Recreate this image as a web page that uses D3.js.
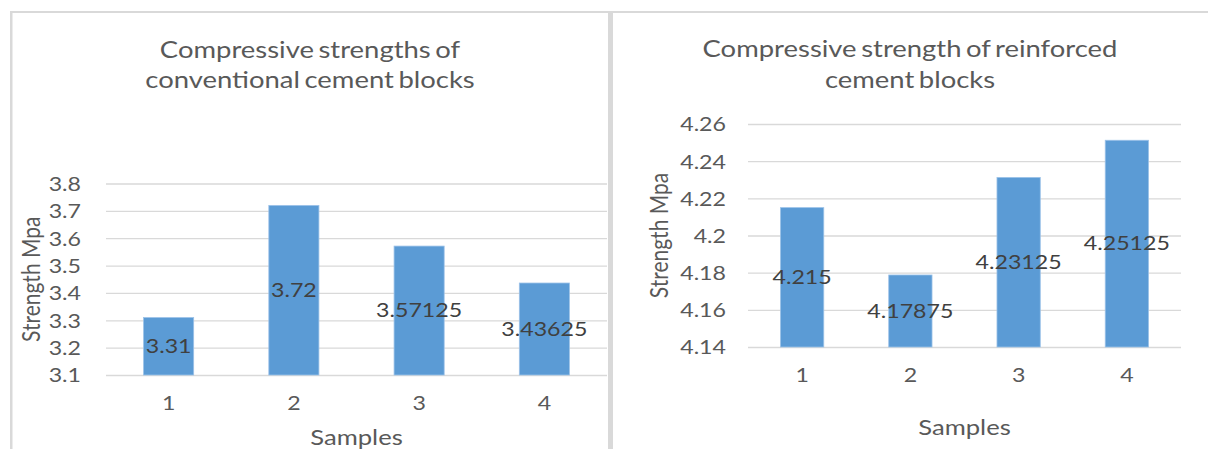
<!DOCTYPE html>
<html>
<head>
<meta charset="utf-8">
<script src="https://cdn.jsdelivr.net/npm/d3@7"></script>
<style>
  body { margin: 0; background: #fff; }
  svg text { font-family: Lato, "Open Sans", sans-serif; }
</style>
</head>
<body>
<svg id="chart" width="1208" height="449"></svg>
<script>
// Sample numbers shared by both charts
const samples = ["1", "2", "3", "4"];

// Conventional cement blocks
const conventionalTitle = ["Compressive strengths of", "conventional cement blocks"];
const conventionalStrength = [3.31, 3.72, 3.57125, 3.43625];
const conventionalTicks = [3.1, 3.2, 3.3, 3.4, 3.5, 3.6, 3.7, 3.8];

// Reinforced cement blocks
const reinforcedTitle = ["Compressive strength of reinforced", "cement blocks"];
const reinforcedStrength = [4.215, 4.17875, 4.23125, 4.25125];
const reinforcedTicks = [4.14, 4.16, 4.18, 4.2, 4.22, 4.24, 4.26];

const xTitle = "Samples";
const yTitle = "Strength Mpa";

const BAR = "#5b9bd5";
const GRID = "#d9d9d9";
const FRAME = "#d9d9d9";
const LABEL = "#595959";
const VALUE = "#404040";
const SX = 1.22; // horizontal text stretch

const svg = d3.select("#chart");

// Chart frames
svg.append("rect").attr("x", 10).attr("y", 11).attr("width", 1200).attr("height", 2).attr("fill", FRAME);
svg.append("rect").attr("x", 10).attr("y", 11).attr("width", 2.5).attr("height", 440).attr("fill", FRAME);
svg.append("rect").attr("x", 608).attr("y", 11).attr("width", 5).attr("height", 440).attr("fill", FRAME);

const fmt = v => String(+v.toFixed(5));

function stretched(g, str, x, y, opts) {
  return g.append("text")
    .attr("transform", `translate(${x},${y}) scale(${SX},1)` + (opts.rotate ? ` rotate(${opts.rotate})` : ""))
    .attr("text-anchor", opts.anchor || "middle")
    .attr("font-size", opts.size)
    .attr("word-spacing", opts.wordSpacing || 0)
    .attr("fill", opts.color || LABEL)
    .text(str);
}

function drawChart(cfg) {
  const g = svg.append("g");

  const x = d3.scaleBand().domain(samples).range(cfg.xRange).paddingInner(0.6).paddingOuter(0.3);
  const y = d3.scaleLinear().domain(cfg.domain).range(cfg.yRange);

  // Title
  cfg.title.forEach((line, i) => stretched(g, line, cfg.titleX, cfg.titleY[i], { size: 22.5, wordSpacing: -2 }));

  // Gridlines and y tick labels
  const yAxis = g.append("g")
    .attr("transform", `translate(${cfg.xRange[0]},0)`)
    .call(d3.axisLeft(y).tickValues(cfg.ticks).tickSize(-(cfg.xRange[1] - cfg.xRange[0])).tickPadding(0).tickFormat(fmt));
  yAxis.select(".domain").remove();
  yAxis.selectAll(".tick line").attr("stroke", GRID).attr("stroke-width", 1.3);
  yAxis.selectAll(".tick text")
    .attr("x", null).attr("dy", "0.36em")
    .attr("transform", `translate(${cfg.tickOffset},0) scale(${SX},1)`)
    .attr("font-family", null)
    .attr("font-size", 19)
    .attr("fill", LABEL);

  // Bars
  g.append("g").selectAll("rect")
    .data(cfg.values)
    .join("rect")
    .attr("x", (d, i) => x(samples[i]))
    .attr("y", d => y(d))
    .attr("width", x.bandwidth())
    .attr("height", d => y(cfg.domain[0]) - y(d))
    .attr("fill", BAR)
    .attr("stroke", "#9cc2e8")
    .attr("stroke-width", 0.8);

  // Value labels, centred on each bar
  g.append("g").selectAll("text")
    .data(cfg.values)
    .join("text")
    .attr("transform", (d, i) => {
      const cx = x(samples[i]) + x.bandwidth() / 2;
      const cy = (y(d) + y(cfg.domain[0])) / 2;
      return `translate(${cx},${cy}) scale(${SX},1)`;
    })
    .attr("dy", "0.36em")
    .attr("text-anchor", "middle")
    .attr("font-size", 19)
    .attr("fill", VALUE)
    .text(d => fmt(d));

  // Category labels
  const xAxis = g.append("g")
    .attr("transform", `translate(0,${cfg.yRange[0]})`)
    .call(d3.axisBottom(x).tickSize(0).tickPadding(0));
  xAxis.select(".domain").remove();
  xAxis.selectAll(".tick text")
    .attr("y", null).attr("dy", null)
    .attr("transform", `translate(0,${cfg.xTickOffset}) scale(${SX},1)`)
    .attr("font-family", null)
    .attr("font-size", 19)
    .attr("fill", LABEL);

  // Axis titles
  stretched(g, xTitle, (cfg.xRange[0] + cfg.xRange[1]) / 2, cfg.xTitleY, { size: 21 });
  stretched(g, yTitle, cfg.yTitleX, (cfg.yRange[0] + cfg.yRange[1]) / 2, { size: 21, rotate: -90 });
}

drawChart({
  title: conventionalTitle,
  values: conventionalStrength,
  ticks: conventionalTicks,
  domain: [3.1, 3.8],
  xRange: [106, 607],
  yRange: [375, 183.5],
  titleX: 310, titleY: [58, 88],
  tickOffset: -25,
  xTickOffset: 35,
  xTitleY: 445,
  yTitleX: 40
});

drawChart({
  title: reinforcedTitle,
  values: reinforcedStrength,
  ticks: reinforcedTicks,
  domain: [4.14, 4.26],
  xRange: [748, 1181],
  yRange: [347, 124],
  titleX: 910, titleY: [57, 88],
  tickOffset: -22,
  xTickOffset: 35,
  xTitleY: 435,
  yTitleX: 668
});
</script>
</body>
</html>
